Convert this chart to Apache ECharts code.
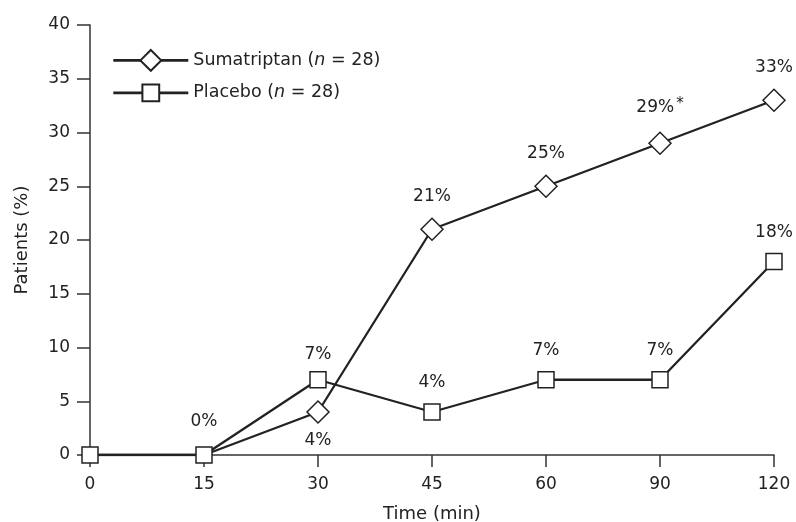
<!DOCTYPE html>
<html><head><meta charset="utf-8">
<script src="https://cdn.jsdelivr.net/npm/echarts@6/dist/echarts.min.js"></script>
<style>html,body{margin:0;padding:0;background:#fff}#c{width:796px;height:522px}</style>
</head><body><div id="c"></div>
<script>
var categories = ['0','15','30','45','60','90','120'];
var sumatriptan = [0,0,4,21,25,29,33];
var placebo = [0,0,7,4,7,7,18];
var yTicks = [0,5,10,15,20,25,30,35,40];

var FONT = 'DejaVu Sans';
var C = '#222';
var AX = '#333';
var chart = echarts.init(document.getElementById('c'));

var sumData = sumatriptan.map(function(v,i){
  var d = {value:v};
  if (i < 2) { d.label = {show:false}; d.symbol = 'none'; }
  if (i === 2) d.label = {position:'bottom', distance:8};
  if (i === 5) d.label = {formatter: '{a|{c}%}{s|*}'};
  return d;
});
var plaData = placebo.map(function(v,i){
  var d = {value:v};
  if (i === 0) d.label = {show:false};
  if (i === 1) d.label = {distance:16};
  if (i === 2) d.label = {distance:8};
  return d;
});
var labelBase = {show:true, position:'top', distance:12, color:C, fontFamily:FONT, fontSize:17,
  formatter:'{c}%', rich:{a:{fontFamily:FONT,fontSize:17,color:C}, s:{fontFamily:FONT,fontSize:15,color:C,verticalAlign:'top',padding:[0,0,8,2]}}};

var legendText = {fontFamily:FONT, fontSize:17.5, color:C,
  rich:{i:{fontFamily:FONT,fontSize:17.5,fontStyle:'italic',color:C}, t:{fontFamily:FONT,fontSize:17.5,color:C}}};
function legendFmt(n){
  if(n==='Sumatriptan') return '{t|Sumatriptan (}{i|n}{t| = 28)}';
  return '{t|Placebo (}{i|n}{t| = 28)}';
}

chart.setOption({
  animation:false,
  grid:{left:90, right:22, top:25, bottom:67, containLabel:false, outerBoundsMode:'none'},
  legend:[
    {left:107, top:44, itemWidth:75, itemHeight:26, textStyle:legendText, formatter:legendFmt,
     lineStyle:{width:2.6}, data:['Sumatriptan']},
    {left:107, top:78.5, itemWidth:75, itemHeight:21, textStyle:legendText, formatter:legendFmt,
     lineStyle:{width:2.6}, data:['Placebo']}
  ],
  xAxis:{type:'category', data:categories, boundaryGap:false,
    name:'Time (min)', nameLocation:'middle', nameGap:50,
    nameTextStyle:{fontFamily:FONT,fontSize:18,color:C},
    axisLine:{lineStyle:{color:AX,width:1.5}},
    axisTick:{inside:false,length:12,lineStyle:{color:AX,width:1.5}},
    axisLabel:{fontFamily:FONT,fontSize:17,color:C,margin:21},
    splitLine:{show:false}},
  yAxis:{type:'value', min:0, max:40, interval:5,
    name:'Patients (%)', nameLocation:'middle', nameGap:59,
    nameTextStyle:{fontFamily:FONT,fontSize:18,color:C},
    axisLine:{show:true,lineStyle:{color:AX,width:1.5}},
    axisTick:{show:true,length:13,lineStyle:{color:AX,width:1.5}},
    axisLabel:{fontFamily:FONT,fontSize:17,color:C,margin:20},
    splitLine:{show:false}},
  series:[
    {name:'Sumatriptan', type:'line', data:sumData, symbol:'diamond', symbolSize:[22,22],
     lineStyle:{color:C,width:2.3}, itemStyle:{color:'#fff',borderColor:C,borderWidth:1.5},
     label:labelBase, z:2},
    {name:'Placebo', type:'line', data:plaData, symbol:'rect', symbolSize:16,
     lineStyle:{color:C,width:2.3}, itemStyle:{color:'#fff',borderColor:C,borderWidth:1.5},
     label:labelBase, z:3}
  ]
});
</script></body></html>
